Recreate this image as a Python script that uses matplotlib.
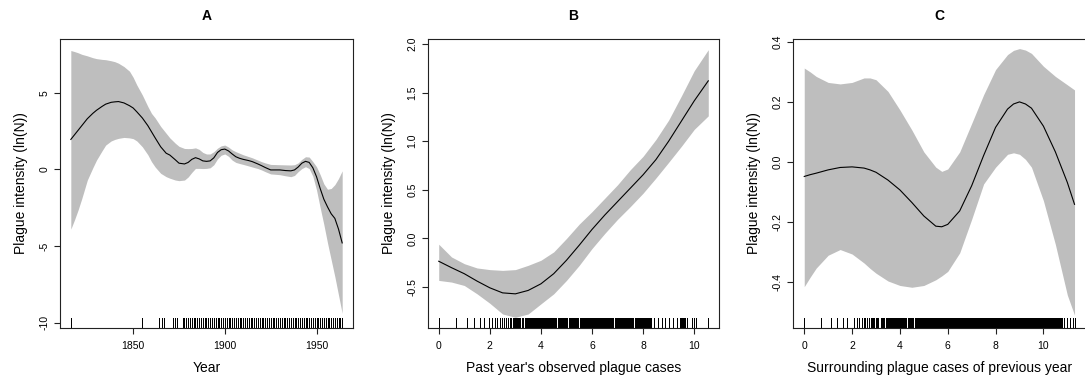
import matplotlib
matplotlib.use('Agg')
import matplotlib.pyplot as plt

plt.rcParams['font.family'] = ['Liberation Sans', 'DejaVu Sans']
plt.rcParams['axes.unicode_minus'] = False

# Panel A: year effect
a_year = [1816, 1818, 1820, 1822, 1825, 1828, 1830, 1833, 1835, 1838, 1840, 1842,
          1845, 1848, 1850, 1852, 1855, 1858, 1860, 1862, 1865, 1868, 1870, 1873,
          1875, 1878, 1880, 1882, 1884, 1886, 1888, 1890, 1892, 1894, 1896, 1898,
          1900, 1902, 1904, 1906, 1908, 1910, 1913, 1915, 1918, 1920, 1922, 1925,
          1930, 1933, 1936, 1938, 1940, 1942, 1944, 1946, 1948, 1950, 1952, 1954,
          1956, 1958, 1960, 1962, 1964]
a_fit = [1.95, 2.25, 2.55, 2.85, 3.3, 3.65, 3.85, 4.1, 4.25, 4.37, 4.4, 4.42,
         4.33, 4.15, 4.0, 3.75, 3.35, 2.85, 2.45, 2.05, 1.47, 1.05, 0.93, 0.62,
         0.4, 0.35, 0.45, 0.65, 0.76, 0.68, 0.55, 0.52, 0.55, 0.75, 1.1, 1.28,
         1.32, 1.2, 1.0, 0.82, 0.72, 0.65, 0.57, 0.5, 0.35, 0.24, 0.12, -0.04,
         -0.04, -0.08, -0.1, -0.04, 0.15, 0.4, 0.52, 0.45, 0.1, -0.48, -1.25, -1.95,
         -2.45, -2.9, -3.2, -3.9, -4.8]
a_upper = [7.75, 7.68, 7.6, 7.5, 7.4, 7.28, 7.22, 7.17, 7.15, 7.08, 7.02, 6.92,
           6.7, 6.4, 6.0, 5.5, 4.85, 4.1, 3.65, 3.35, 2.8, 2.35, 2.05, 1.7,
           1.5, 1.36, 1.35, 1.36, 1.4, 1.3, 1.1, 1.0, 1.0, 1.15, 1.38, 1.53,
           1.58, 1.45, 1.27, 1.15, 1.05, 0.95, 0.83, 0.75, 0.6, 0.5, 0.42, 0.32,
           0.3, 0.29, 0.28, 0.3, 0.42, 0.65, 0.82, 0.8, 0.5, 0.17, -0.35, -0.95,
           -1.3, -1.25, -1.0, -0.6, -0.1]
a_lower = [-3.9, -3.3, -2.64, -1.9, -0.7, 0.1, 0.6, 1.2, 1.58, 1.85, 1.95, 2.02,
           2.08, 2.05, 2.0, 1.85, 1.47, 0.95, 0.5, 0.15, -0.26, -0.48, -0.58, -0.7,
           -0.74, -0.7, -0.5, -0.2, 0.06, 0.06, 0.05, 0.06, 0.1, 0.3, 0.68, 0.92,
           1.0, 0.85, 0.6, 0.45, 0.38, 0.32, 0.22, 0.15, 0.05, -0.04, -0.15, -0.3,
           -0.35, -0.42, -0.48, -0.4, -0.15, 0.05, 0.17, 0.05, -0.45, -1.34, -2.5, -3.6,
           -4.8, -5.9, -7.0, -8.2, -9.4]
a_rug = [1816, 1855, 1864, 1866, 1867, 1872, 1873, 1874] + list(range(1877, 1965))

# Panel B: past year's observed plague cases (log scale)
b_x = [0, 0.5, 1, 1.5, 2, 2.5, 3, 3.5, 4, 4.5, 5, 5.5, 6, 6.5, 7, 7.5, 8, 8.5,
       9, 9.5, 10, 10.55]
b_fit = [-0.234, -0.30, -0.362, -0.438, -0.507, -0.559, -0.569, -0.534, -0.466,
         -0.362, -0.224, -0.069, 0.093, 0.241, 0.379, 0.517, 0.655, 0.81, 1.0,
         1.207, 1.414, 1.62]
b_upper = [-0.059, -0.19, -0.259, -0.303, -0.32, -0.328, -0.32, -0.276, -0.224,
           -0.138, 0.0, 0.148, 0.276, 0.414, 0.552, 0.707, 0.845, 1.017, 1.217,
           1.466, 1.724, 1.94]
b_lower = [-0.431, -0.448, -0.483, -0.569, -0.666, -0.776, -0.81, -0.776, -0.672,
           -0.569, -0.431, -0.276, -0.103, 0.052, 0.197, 0.328, 0.466, 0.621, 0.783,
           0.948, 1.121, 1.26]
b_rug = [0.0, 0.69, 1.10, 1.39, 1.61, 1.79, 1.95, 2.08, 2.20, 2.30, 2.40, 2.48,
         2.56, 2.64, 2.71, 2.77, 2.83, 2.89, 2.94, 3.00, 3.04,
         3.08, 3.12, 3.16, 3.20, 3.24, 3.28, 3.36, 3.40, 3.44, 3.48, 3.52, 3.56,
         3.60, 3.64, 3.68, 3.72, 3.76, 3.80, 3.84, 3.88, 3.92, 3.96, 4.00, 4.04,
         4.08, 4.12, 4.16, 4.20, 4.24, 4.28, 4.32, 4.36, 4.40, 4.44, 4.48, 4.52,
         4.56, 4.60, 4.68, 4.72, 4.76, 4.80, 4.84, 4.88, 4.92, 4.96, 5.00, 5.04,
         5.08, 5.12, 5.16, 5.20, 5.24, 5.28, 5.32, 5.36, 5.40, 5.44, 5.52, 5.56,
         5.60, 5.64, 5.68, 5.72, 5.76, 5.80, 5.84, 5.88, 5.92, 5.96, 6.00, 6.04,
         6.08, 6.12, 6.16, 6.20, 6.24, 6.28, 6.32, 6.36, 6.40, 6.44, 6.48, 6.52,
         6.56, 6.60, 6.64, 6.68, 6.72, 6.76, 6.80, 6.84, 6.88, 6.92, 6.96, 7.00,
         7.04, 7.08, 7.12, 7.16, 7.20, 7.24, 7.28, 7.32, 7.36, 7.40, 7.44, 7.48,
         7.52, 7.56, 7.60, 7.68, 7.72, 7.76, 7.80, 7.84, 7.88, 7.92, 7.96, 8.00,
         8.04, 8.08, 8.12, 8.16, 8.20, 8.24, 8.28, 8.32,
         8.41, 8.57, 8.72, 8.85, 9.00, 9.15, 9.31, 9.44, 9.48, 9.52, 9.56, 9.60,
         9.64, 9.72, 9.91, 9.98, 10.07, 10.55]

# Panel C: surrounding plague cases of previous year (log scale)
c_x = [0, 0.25, 0.5, 1, 1.5, 2, 2.5, 2.75, 3, 3.5, 4, 4.5, 5, 5.5, 5.75, 6, 6.5,
       7, 7.5, 8, 8.5, 8.75, 9, 9.25, 9.5, 10, 10.5, 11, 11.3]
c_fit = [-0.049, -0.043, -0.038, -0.027, -0.019, -0.017, -0.021, -0.027, -0.035,
         -0.061, -0.094, -0.136, -0.181, -0.215, -0.217, -0.209, -0.164, -0.08,
         0.021, 0.115, 0.176, 0.193, 0.2, 0.193, 0.179, 0.119, 0.033, -0.069, -0.142]
c_upper = [0.313, 0.30, 0.285, 0.265, 0.26, 0.265, 0.28, 0.28, 0.274, 0.235,
           0.173, 0.106, 0.033, -0.018, -0.032, -0.024, 0.033, 0.128, 0.224, 0.308,
           0.358, 0.372, 0.378, 0.373, 0.362, 0.319, 0.285, 0.257, 0.24]
c_lower = [-0.417, -0.385, -0.355, -0.312, -0.293, -0.308, -0.338, -0.356, -0.372,
           -0.398, -0.413, -0.419, -0.413, -0.394, -0.381, -0.366, -0.304, -0.192,
           -0.074, -0.018, 0.025, 0.03, 0.025, 0.008, -0.018, -0.13, -0.276, -0.445,
           -0.512]
c_rug = [0.0, 0.69, 1.10, 1.39, 1.61, 1.79, 2.08, 2.20, 2.30, 2.40, 2.48, 2.56,
         2.64, 2.71, 2.80, 2.84, 2.88, 2.92, 3.00, 3.04, 3.08, 3.21, 3.25, 3.29,
         3.33,
         3.40, 3.44, 3.48, 3.52, 3.56, 3.60, 3.64, 3.68, 3.72, 3.76, 3.80, 3.84,
         3.88, 3.92, 3.96, 4.00, 4.04, 4.08, 4.12, 4.16, 4.20, 4.24, 4.32, 4.36,
         4.40, 4.44, 4.48, 4.52, 4.56, 4.64, 4.68, 4.72, 4.76, 4.80, 4.84, 4.88,
         4.92, 4.96, 5.00, 5.04, 5.08, 5.12, 5.16, 5.20, 5.24, 5.28, 5.32, 5.36,
         5.40, 5.44, 5.48, 5.52, 5.56, 5.60, 5.64, 5.68, 5.72, 5.76, 5.80, 5.84,
         5.88, 5.92, 5.96, 6.00, 6.04, 6.08, 6.12, 6.16, 6.20, 6.24, 6.28, 6.32,
         6.36, 6.40, 6.44, 6.48, 6.52, 6.56, 6.60, 6.64, 6.68, 6.72, 6.76, 6.80,
         6.84, 6.88, 6.92, 6.96, 7.00, 7.04, 7.08, 7.12, 7.16, 7.20, 7.24, 7.28,
         7.32, 7.36, 7.40, 7.44, 7.48, 7.52, 7.56, 7.60, 7.64, 7.68, 7.72, 7.76,
         7.80, 7.84, 7.88, 7.92, 7.96, 8.00, 8.04, 8.08, 8.12, 8.16, 8.20, 8.24,
         8.28, 8.32, 8.36, 8.40, 8.44, 8.48, 8.52, 8.56, 8.60, 8.64, 8.68, 8.72,
         8.76, 8.80, 8.84, 8.88, 8.92, 8.96, 9.00, 9.04, 9.08, 9.12, 9.16, 9.20,
         9.24, 9.28, 9.32, 9.36, 9.40, 9.44, 9.48, 9.52, 9.56, 9.60, 9.64, 9.68,
         9.72, 9.76, 9.80, 9.84, 9.88, 9.92, 9.96, 10.00, 10.04, 10.08, 10.12,
         10.16, 10.20, 10.24, 10.28, 10.32, 10.36, 10.40, 10.44, 10.48, 10.52,
         10.56, 10.60, 10.64, 10.68, 10.72, 10.76,
         10.84, 10.98, 11.10, 11.22, 11.30]

W, H = 1085, 383
fig = plt.figure(figsize=(W / 100, H / 100), dpi=100)


def panel(left_px, width_px, x, fit, lo, hi, rug, title, xlabel, xlim,
          ylim, xticks, yticks, ylabels):
    ax = fig.add_axes([left_px / W, (H - 328) / H, width_px / W, 289 / H])
    ax.fill_between(x, lo, hi, color='#bebebe', lw=0)
    ax.plot(x, fit, color='black', lw=0.8, solid_joinstyle='round')
    ax.vlines(rug, 0, 0.033, transform=ax.get_xaxis_transform(),
              color='black', lw=0.5, antialiased=False)
    ax.set_xlim(xlim)
    ax.set_ylim(ylim)
    ax.set_xticks(xticks)
    ax.set_yticks(yticks)
    ax.set_yticklabels(ylabels, rotation=90, va='center')
    ax.tick_params(length=4.5, width=0.8, labelsize=7.5, pad=3, color='#222222')
    ax.tick_params(axis='x', pad=5)
    for s in ax.spines.values():
        s.set_linewidth(0.8)
        s.set_color('#222222')
    ax.set_title(title, fontsize=10, fontweight='bold', pad=14)
    ax.set_xlabel(xlabel, fontsize=10, labelpad=7)
    ax.set_ylabel('Plague intensity (ln(N))', fontsize=10, labelpad=8)
    return ax


panel(60, 293, a_year, a_fit, a_lower, a_upper, a_rug, 'A', 'Year',
      (1810.1, 1969.9), (-10.35, 8.5), [1850, 1900, 1950],
      [-10, -5, 0, 5], ['-10', '-5', '0', '5'])
panel(428, 291, b_x, b_fit, b_lower, b_upper, b_rug, 'B',
      "Past year's observed plague cases", (-0.42, 10.97), (-0.92, 2.05),
      [0, 2, 4, 6, 8, 10], [-0.5, 0, 0.5, 1, 1.5, 2],
      ['-0.5', '0.0', '0.5', '1.0', '1.5', '2.0'])
panel(793, 293, c_x, c_fit, c_lower, c_upper, c_rug, 'C',
      'Surrounding plague cases of previous year', (-0.47, 11.78), (-0.555, 0.41),
      [0, 2, 4, 6, 8, 10], [-0.4, -0.2, 0, 0.2, 0.4],
      ['-0.4', '-0.2', '0.0', '0.2', '0.4'])

fig.savefig('out.png', dpi=100)
